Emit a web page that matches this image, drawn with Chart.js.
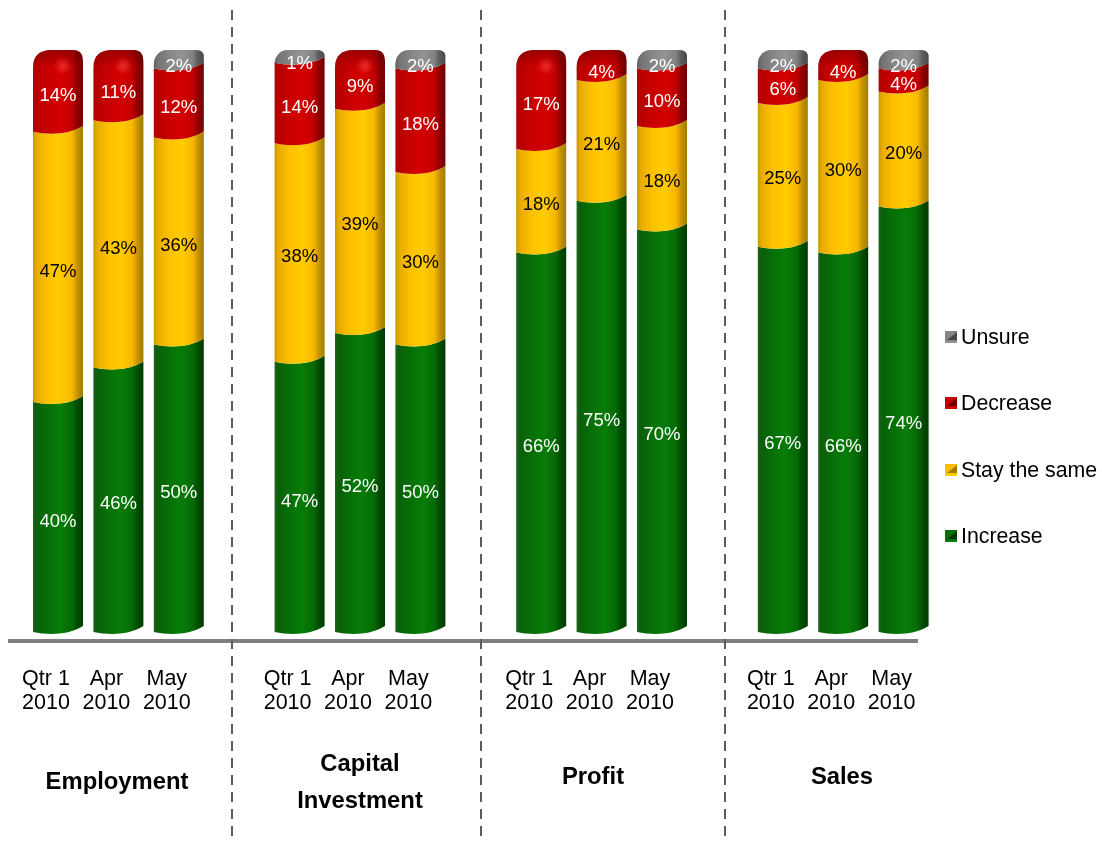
<!DOCTYPE html>
<html>
<head>
<meta charset="utf-8">
<title>Outlook by quarter</title>
<script src="https://cdn.jsdelivr.net/npm/chart.js@4/dist/chart.umd.min.js"></script>
<style>
  html, body { margin: 0; padding: 0; background: #fff; }
  canvas { display: block; }
</style>
</head>
<body>
<canvas id="outlook" width="1102" height="841"></canvas>
<script>
// blank slots keep the four groups apart
const categories = [
  ['Qtr 1', '2010'], ['Apr', '2010'], ['May', '2010'], '',
  ['Qtr 1', '2010'], ['Apr', '2010'], ['May', '2010'], '',
  ['Qtr 1', '2010'], ['Apr', '2010'], ['May', '2010'], '',
  ['Qtr 1', '2010'], ['Apr', '2010'], ['May', '2010']
];
const increase = [40, 46, 50, null, 47, 52, 50, null, 66, 75, 70, null, 67, 66, 74];
const stayTheSame = [47, 43, 36, null, 38, 39, 30, null, 18, 21, 18, null, 25, 30, 20];
const decrease = [14, 11, 12, null, 14, 9, 18, null, 17, 4, 10, null, 6, 4, 4];
const unsure = [null, null, 2, null, 1, null, 2, null, null, null, 2, null, 2, null, 2];

const groupTitles = [
  { lines: ['Employment'], x: 117, y: 782 },
  { lines: ['Capital', 'Investment'], x: 360, y: 764.5 },
  { lines: ['Profit'], x: 593, y: 777 },
  { lines: ['Sales'], x: 842, y: 777 }
];
const separators = [232, 481, 725];
const legendRows = [338, 404, 471, 537];

const FONT = '"Liberation Sans", Arial, sans-serif';

// left to right colours across the cylinder
const shades = {
  green: ['#1d5f1d', '#0a600a', '#067006', '#087c08', '#066a06', '#004e00', '#003a00'],
  yellow: ['#c89a00', '#e8ac00', '#ffc000', '#ffcc00', '#f8b800', '#c89400', '#a07c00'],
  red: ['#a80808', '#b80000', '#c80000', '#d40000', '#c00000', '#900000', '#700000'],
  grey: ['#606060', '#747474', '#858585', '#949494', '#828282', '#5c5c5c', '#484848']
};
const stops = [0, 0.08, 0.3, 0.55, 0.78, 0.88, 1];

function cylinderFill(ctx, left, right, key) {
  const g = ctx.createLinearGradient(left, 0, right, 0);
  shades[key].forEach((c, i) => g.addColorStop(stops[i], c));
  return g;
}

// front edge of a slice, y is its lowest point. Runs left to right.
function frontEdge(ctx, left, right, y) {
  const w = right - left;
  ctx.moveTo(left, y - 2);
  ctx.bezierCurveTo(left + w * 0.3, y + 1, left + w * 0.7, y + 1.5, right, y - 8);
}

function drawBars(chart) {
  const ctx = chart.ctx;
  const top100 = chart.scales.y.getPixelForValue(100);
  const count = chart.data.labels.length;

  for (let i = 0; i < count; i++) {
    const parts = [];
    chart.data.datasets.forEach((ds, d) => {
      if (ds.data[i] != null) parts.push({ ds, el: chart.getDatasetMeta(d).data[i] });
    });
    parts.forEach((p, n) => {
      const el = p.el;
      const left = el.x - el.width / 2;
      const right = el.x + el.width / 2;
      const isTop = n === parts.length - 1;
      const y = Math.max(el.y, top100);

      ctx.save();
      ctx.beginPath();
      if (isTop && p.ds.shade === 'grey') {
        ctx.moveTo(left, y + 5);
        ctx.bezierCurveTo(left, y - 2, left + 5, y - 9, left + 13, y - 9);
        ctx.lineTo(right - 8, y - 9);
        ctx.quadraticCurveTo(right - 1, y - 9, right, y - 4);
      } else if (isTop) {
        ctx.moveTo(left, y + 8);
        ctx.bezierCurveTo(left, y - 4, left + 8, y - 9, left + 18, y - 9);
        ctx.lineTo(right - 10, y - 9);
        ctx.bezierCurveTo(right - 2, y - 9, right, y - 4, right, y + 4);
      } else {
        frontEdge(ctx, left, right, y);
      }
      // back down the right side and along the lower edge, right to left
      const b = el.base;
      const w = right - left;
      ctx.lineTo(right, b - 8);
      ctx.bezierCurveTo(left + w * 0.7, b + 1.5, left + w * 0.3, b + 1, left, b - 2);
      ctx.closePath();
      ctx.fillStyle = cylinderFill(ctx, left, right, p.ds.shade);
      ctx.fill();

      // rounded red caps: darker rim, soft shine
      if (isTop && p.ds.shade === 'red') {
        ctx.clip();
        const rim = ctx.createLinearGradient(0, y - 9, 0, y + 8);
        rim.addColorStop(0, 'rgba(90,0,0,0.45)');
        rim.addColorStop(1, 'rgba(90,0,0,0)');
        ctx.fillStyle = rim;
        ctx.fillRect(left, y - 10, w, 20);
        if (p.ds.data[i] > 4) {
          const gx = left + 30, gy = y + 7;
          const shine = ctx.createRadialGradient(gx, gy, 1, gx, gy, 9);
          shine.addColorStop(0, 'rgba(255,70,70,0.55)');
          shine.addColorStop(1, 'rgba(255,70,70,0)');
          ctx.fillStyle = shine;
          ctx.fillRect(left, y - 10, w, 30);
        }
      }
      ctx.restore();
    });
  }

  // percent labels sit over the slices
  ctx.font = '18.5px ' + FONT;
  ctx.textAlign = 'center';
  ctx.textBaseline = 'middle';
  chart.data.datasets.forEach((ds, d) => {
    chart.getDatasetMeta(d).data.forEach((el, i) => {
      if (ds.data[i] == null) return;
      ctx.fillStyle = ds.labelColor;
      ctx.fillText(ds.data[i] + '%', el.x, (el.y + el.base) / 2 + 2.5);
    });
  });
}

function drawSwatch(ctx, x, y, shade) {
  const c = shades[shade];
  ctx.fillStyle = c[2];
  ctx.fillRect(x, y, 12, 12);
  ctx.fillStyle = c[6];
  ctx.beginPath();
  ctx.moveTo(x + 12, y + 1);
  ctx.lineTo(x + 12, y + 9);
  ctx.lineTo(x + 2, y + 9);
  ctx.closePath();
  ctx.fill();
  ctx.fillStyle = c[3];
  ctx.fillRect(x, y + 10, 12, 2);
}

const decorations = {
  id: 'decorations',
  beforeDatasetDraw() {
    return false; // bars are drawn as cylinders below
  },
  afterDatasetsDraw(chart) {
    drawBars(chart);
  },
  afterDraw(chart) {
    const ctx = chart.ctx;
    ctx.save();

    // axis rule
    ctx.strokeStyle = '#808080';
    ctx.lineWidth = 4;
    ctx.beginPath();
    ctx.moveTo(8, 641);
    ctx.lineTo(918, 641);
    ctx.stroke();

    // group separators
    ctx.strokeStyle = '#5c5c5c';
    ctx.lineWidth = 2;
    ctx.setLineDash([10, 7]);
    separators.forEach(x => {
      ctx.beginPath();
      ctx.moveTo(x, 10);
      ctx.lineTo(x, 841);
      ctx.stroke();
    });
    ctx.setLineDash([]);

    // group titles
    ctx.fillStyle = '#000';
    ctx.font = 'bold 23.8px ' + FONT;
    ctx.textAlign = 'center';
    ctx.textBaseline = 'middle';
    groupTitles.forEach(t => {
      t.lines.forEach((line, i) => ctx.fillText(line, t.x, t.y + i * 37));
    });

    // legend, top row is the last series
    ctx.font = '21.3px ' + FONT;
    ctx.textAlign = 'left';
    const series = [...chart.data.datasets].reverse();
    series.forEach((ds, i) => {
      drawSwatch(ctx, 945, legendRows[i] - 7, ds.shade);
      ctx.fillStyle = '#000';
      ctx.fillText(ds.label, 961, legendRows[i]);
    });
    ctx.restore();
  }
};

new Chart(document.getElementById('outlook'), {
  type: 'bar',
  data: {
    labels: categories,
    datasets: [
      { label: 'Increase', data: increase, shade: 'green', labelColor: '#fff', backgroundColor: '#067006' },
      { label: 'Stay the same', data: stayTheSame, shade: 'yellow', labelColor: '#000', backgroundColor: '#ffc000' },
      { label: 'Decrease', data: decrease, shade: 'red', labelColor: '#fff', backgroundColor: '#c80000' },
      { label: 'Unsure', data: unsure, shade: 'grey', labelColor: '#fff', backgroundColor: '#858585' }
    ]
  },
  options: {
    responsive: false,
    animation: false,
    layout: { padding: { left: 27.8, right: 168.2, top: 59, bottom: 0 } },
    barThickness: 50,
    plugins: { legend: { display: false }, tooltip: { enabled: false } },
    scales: {
      x: {
        stacked: true,
        grid: { display: false },
        border: { display: false },
        afterFit(scale) { scale.height = 200; },
        ticks: {
          autoSkip: false,
          maxRotation: 0,
          labelOffset: -12,
          padding: 17.5,
          color: '#000',
          font: { family: FONT, size: 21.5, lineHeight: 1.13 }
        }
      },
      y: { stacked: true, display: false, min: -1.2, max: 100 }
    }
  },
  plugins: [decorations]
});
</script>
</body>
</html>
